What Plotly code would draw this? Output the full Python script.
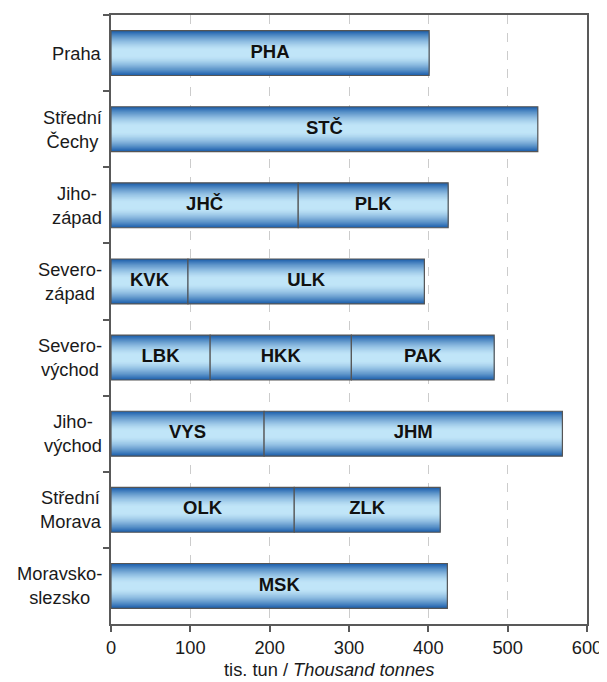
import plotly.graph_objects as go

# ---- data ----
regions = ["Praha", "Střední<br>Čechy", "Jiho-<br>západ", "Severo-<br>západ",
           "Severo-<br>východ", "Jiho-<br>východ", "Střední<br>Morava", "Moravsko-<br>slezsko"]
seg1_labels = ["PHA", "STČ", "JHČ", "KVK", "LBK", "VYS", "OLK", "MSK"]
seg1_values = [401, 538, 236, 97, 125, 193, 231, 424]
seg2_labels = [None, None, "PLK", "ULK", "HKK", "JHM", "ZLK", None]
seg2_values = [None, None, 189, 298, 178, 376, 184, None]
seg3_labels = [None, None, None, None, "PAK", None, None, None]
seg3_values = [None, None, None, None, 180, None, None, None]
x_ticks = [0, 100, 200, 300, 400, 500, 600]

FONT = "Liberation Sans, Arial, sans-serif"
BAR_W = 0.59
N = 22
DARK = (30, 96, 172)
LIGHT = (192, 229, 248)


def grad_color(d):
    t = max(0.0, (d - 0.15) / 0.85)
    f = t ** 1.5
    c = [round(LIGHT[i] + (DARK[i] - LIGHT[i]) * f) for i in range(3)]
    return f"rgb({c[0]},{c[1]},{c[2]})"


segments = [(seg1_labels, seg1_values), (seg2_labels, seg2_values), (seg3_labels, seg3_values)]

fig = go.Figure()
cum = [0] * len(regions)
text_x, text_y, text_t = [], [], []
for labels, vals in segments:
    bases = list(cum)
    for k in range(N):
        d = 1 - k / N
        fig.add_trace(go.Bar(
            orientation="h", y=regions, x=vals, base=bases,
            width=BAR_W * d, marker=dict(color=grad_color(d), line=dict(width=0)),
            showlegend=False, hoverinfo="skip"))
    fig.add_trace(go.Bar(
        orientation="h", y=regions, x=vals, base=bases, width=BAR_W,
        marker=dict(color="rgba(0,0,0,0)", line=dict(color="#555555", width=1.2)),
        showlegend=False, hoverinfo="skip"))
    for i, (lab, v) in enumerate(zip(labels, vals)):
        if v is not None:
            text_x.append(bases[i] + v / 2)
            text_y.append(regions[i])
            text_t.append(lab)
            cum[i] = bases[i] + v

fig.add_trace(go.Scatter(
    x=text_x, y=text_y, text=text_t, mode="text",
    textfont=dict(family=FONT, size=18.5, color="#111111", weight="bold"),
    textposition="middle center", showlegend=False, hoverinfo="skip"))

annotations = []
for r in regions:
    annotations.append(dict(
        x=0, xref="paper", y=r, yref="y", text=r, showarrow=False,
        xanchor="right", yanchor="middle", align="center", xshift=-7,
        font=dict(family=FONT, size=18.3, color="#1a1a1a")))
annotations.append(dict(
    x=0.458, xref="paper", y=-0.075, yref="paper",
    text="tis. tun / <i>Thousand tonnes</i>", showarrow=False,
    xanchor="center", yanchor="middle",
    font=dict(family=FONT, size=18.3, color="#1a1a1a")))

# the page body adds an 8px offset; the figure is sized to compensate
fig.update_layout(
    width=599, height=674,
    margin=dict(l=103, r=20, t=5, b=58),
    barmode="overlay",
    plot_bgcolor="white", paper_bgcolor="white",
    annotations=annotations,
    font=dict(family=FONT, size=18.3, color="#1a1a1a"),
)
fig.update_xaxes(
    range=[0, 600], tickvals=x_ticks, ticks="outside", ticklen=6, tickwidth=1.5,
    tickcolor="#595959", showline=True, linewidth=2, linecolor="#595959", mirror=True,
    showgrid=True, gridcolor="#cccccc", griddash="dash", gridwidth=1,
    zeroline=False, tickfont=dict(family=FONT, size=18.3, color="#1a1a1a"))
fig.update_yaxes(
    type="category", categoryorder="array", categoryarray=regions, autorange="reversed",
    showticklabels=False, ticks="outside", tickson="boundaries", ticklen=6, tickwidth=1.5,
    tickcolor="#595959", showline=True, linewidth=2, linecolor="#595959", mirror=True,
    showgrid=False, zeroline=False)

fig.write_html("out.html")
